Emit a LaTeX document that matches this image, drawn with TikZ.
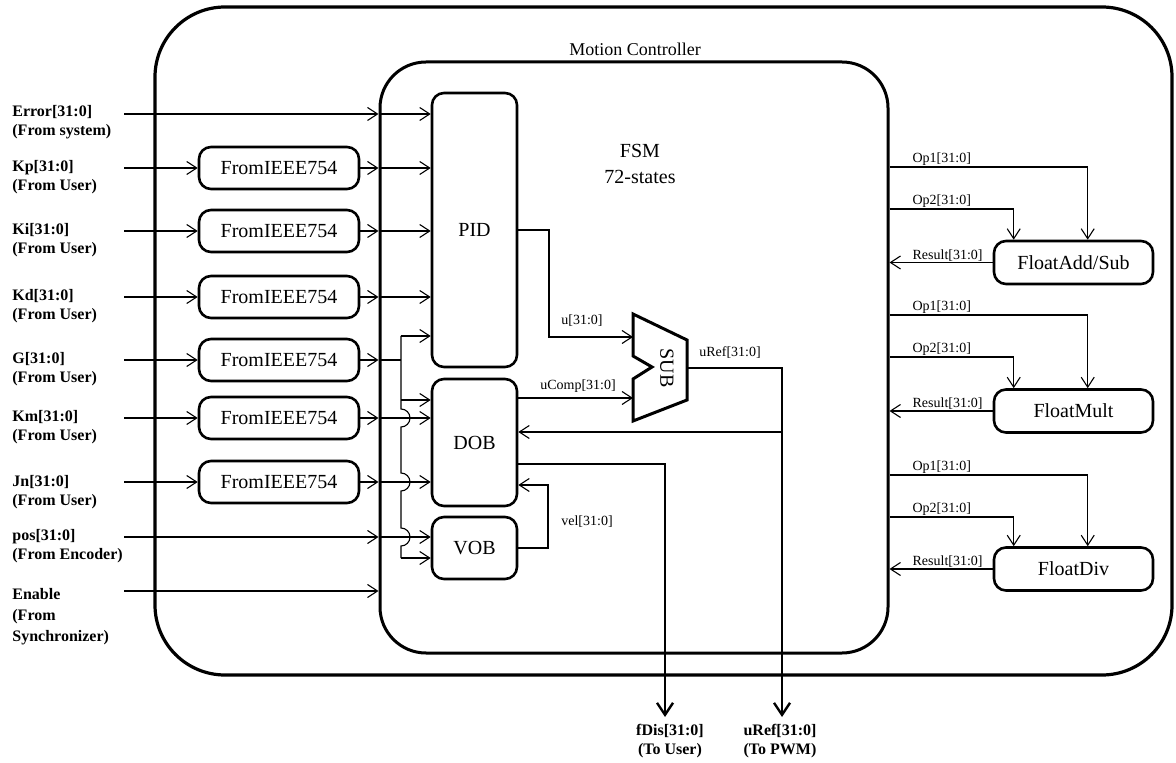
\documentclass[tikz,border=0pt]{standalone}
\usepackage{fontspec}
\setmainfont{Liberation Serif}
\usetikzlibrary{arrows.meta,calc}

\begin{document}
\begin{tikzpicture}[x=0.5pt, y=-0.5pt,
  wire/.style={line width=0.55pt},
  barb/.style={-{Straight Barb[length=5pt,width=6.5pt,line width=0.55pt]}},
  stub/.style={line width=1.3pt},
  outbus/.style={line width=1.3pt, -{Straight Barb[length=6pt,width=8pt,line width=1.2pt]}},
  blockbox/.style={draw, line width=1.3pt, rounded corners=6pt, inner sep=0pt,
    font=\fontsize{10}{12}\selectfont},
  convbox/.style={blockbox, minimum width=80pt, minimum height=21pt},
  fpubox/.style={blockbox, minimum width=79.5pt, minimum height=21.5pt},
  siglbl/.style={font=\fontsize{7}{8}\selectfont, inner sep=0.6pt},
  portlbl/.style={font=\fontsize{8}{9.5}\selectfont\bfseries, align=left, inner sep=0pt},
]
\useasboundingbox (0,0) rectangle (1176,763);

% ---- enclosures ----
\node[draw, line width=1.6pt, rounded corners=35pt, inner sep=0pt,
      minimum width=508.5pt, minimum height=334pt] (mc) at (663.5,341) {};
\node[font=\fontsize{9}{11}\selectfont, inner sep=0pt] (mctitle) at (635,49) {Motion Controller};
\node[draw, line width=1.5pt, rounded corners=23pt, inner sep=0pt,
      minimum width=254pt, minimum height=295.5pt] (fsm) at (634,357.5) {};
\node[font=\fontsize{10}{13}\selectfont, align=center, inner sep=0pt] (fsmtxt) at (640,164) {FSM\\72-states};

% ---- internal blocks ----
\node[blockbox, minimum width=42.5pt, minimum height=137pt] (pid) at (474.5,230) {PID};
\node[blockbox, minimum width=42.5pt, minimum height=63.5pt] (dob) at (474.5,442.5) {DOB};
\node[blockbox, minimum width=42.5pt, minimum height=31pt] (vob) at (474.5,548) {VOB};

% ---- IEEE754 converters ----
\node[convbox] (ckp) at (279,168) {FromIEEE754};
\node[convbox] (cki) at (279,231) {FromIEEE754};
\node[convbox] (ckd) at (279,297) {FromIEEE754};
\node[convbox] (cg)  at (279,360) {FromIEEE754};
\node[convbox] (ckm) at (279,418) {FromIEEE754};
\node[convbox] (cjn) at (279,482) {FromIEEE754};

% ---- floating point units ----
\node[fpubox] (add)  at (1073.5,262.5) {FloatAdd/Sub};
\node[fpubox] (mult) at (1073.5,411) {FloatMult};
\node[fpubox] (div)  at (1073.5,569) {FloatDiv};

% ---- port labels ----
\node[portlbl, anchor=north west] (lerr) at (12,105) {Error[31:0]\\(From system)};
\node[portlbl, anchor=north west] (lkp)  at (12,160) {Kp[31:0]\\(From User)};
\node[portlbl, anchor=north west] (lki)  at (12,223) {Ki[31:0]\\(From User)};
\node[portlbl, anchor=north west] (lkd)  at (12,289) {Kd[31:0]\\(From User)};
\node[portlbl, anchor=north west] (lg)   at (12,352) {G[31:0]\\(From User)};
\node[portlbl, anchor=north west] (lkm)  at (12,410) {Km[31:0]\\(From User)};
\node[portlbl, anchor=north west] (ljn)  at (12,475) {Jn[31:0]\\(From User)};
\node[portlbl, anchor=north west] (lpos) at (12,529) {pos[31:0]\\(From Encoder)};
\node[portlbl, anchor=north west, font=\fontsize{8}{10.5}\selectfont\bfseries] (len) at (12,588) {Enable\\(From\\Synchronizer)};

% ---- input stubs ----
\coordinate (serr) at (124,114);
\coordinate (skp)  at (124,168);
\coordinate (ski)  at (124,231);
\coordinate (skd)  at (124,297);
\coordinate (sg)   at (124,360);
\coordinate (skm)  at (124,418);
\coordinate (sjn)  at (124,482);
\coordinate (spos) at (124,537);
\coordinate (sen)  at (124,591);
\foreach \s in {serr,skp,ski,skd,sg,skm,sjn,spos,sen}
  \draw[stub] (\s) -- (\s -| mc.west);

% Error input straight to PID
\draw[wire,barb] (serr -| mc.west) -- (serr -| fsm.west);
\draw[wire,barb] (serr -| fsm.west) -- (serr -| pid.west);

% gains through converters into PID
\foreach \s/\c in {skp/ckp, ski/cki, skd/ckd}{
  \draw[wire,barb] (\s -| mc.west) -- (\c.west);
  \draw[wire,barb] (\c.east) -- (\c.east -| fsm.west);
  \draw[wire,barb] (\c.east -| fsm.west) -- (\c.east -| pid.west);
}

% plant parameters through converters
\foreach \s/\c in {sg/cg, skm/ckm, sjn/cjn}{
  \draw[wire,barb] (\s -| mc.west) -- (\c.west);
  \draw[wire,barb] (\c.east) -- (\c.east -| fsm.west);
}
\draw[wire,barb] (ckm.east -| fsm.west) -- (ckm.east -| dob.west);
\draw[wire,barb] (cjn.east -| fsm.west) -- (cjn.east -| dob.west);

% position and enable
\draw[wire,barb] (spos -| mc.west) -- (spos -| fsm.west);
\draw[wire,barb] (spos -| fsm.west) -- (spos -| vob.west);
\draw[wire,barb] (sen -| mc.west) -- (sen -| fsm.west);

% G distribution bus with hops over crossing wires
\coordinate (bus)    at (401,360);
\coordinate (bustop) at (401,336);
\coordinate (busdob) at (401,400);
\coordinate (busbot) at (401,558);
\draw[wire] (cg.east -| fsm.west) -- (bus);
\draw[wire] (bustop) -- (401,409) arc[start angle=90, end angle=-90, radius=4.5pt]
  -- (401,473) arc[start angle=90, end angle=-90, radius=4.5pt]
  -- (401,528) arc[start angle=90, end angle=-90, radius=4.5pt]
  -- (busbot);
\draw[wire,barb] (bustop) -- (bustop -| pid.west);
\draw[wire,barb] (busdob) -- (busdob -| dob.west);
\draw[wire,barb] (busbot) -- (busbot -| vob.west);

% ---- SUB block ----
\coordinate (subin1) at (633,337);
\coordinate (subin2) at (633,398);
\coordinate (subout) at (687,368);
\draw[line width=1.5pt, line join=miter]
  (633,314) -- (687,340) -- (687,400) -- (633,421) -- (633,379) -- (652,367) -- (633,356) -- cycle;
\node[rotate=-90, font=\fontsize{10}{12}\selectfont, inner sep=0pt] (subtxt) at (667,368) {SUB};

% PID output to SUB
\coordinate (ujog) at (549,337);
\draw[wire,barb] (pid.east) -| (ujog) -- (subin1);
\node[siglbl] (ulbl) at (582,321) {u[31:0]};

% DOB compensation to SUB
\draw[wire,barb] (subin2 -| dob.east) -- (subin2);
\node[siglbl] (ucomplbl) at (578,386) {uComp[31:0]};

% SUB output: uRef
\coordinate (urefend) at (782,717);
\coordinate (urefexit) at (urefend |- mc.south);
\coordinate (fbk) at (782,432);
\draw[wire] (subout) -| (urefexit);
\draw[outbus] (urefexit) -- (urefend);
\node[siglbl] (ureflbl) at (730,353) {uRef[31:0]};
\draw[wire,barb] (fbk) -- (fbk -| dob.east);

% DOB disturbance output
\coordinate (fdisend) at (665,717);
\coordinate (fdisexit) at (fdisend |- mc.south);
\coordinate (fdisout) at (517,464);
\draw[wire] (fdisout -| dob.east) -| (fdisexit);
\draw[outbus] (fdisexit) -- (fdisend);

% VOB velocity to DOB
\coordinate (veljog) at (548,485);
\draw[wire,barb] (vob.east) -| (veljog) -- (veljog -| dob.east);
\node[siglbl] (vellbl) at (587,522) {vel[31:0]};

% output port labels
\node[portlbl, align=center, anchor=north] (lfdis) at (670,724) {fDis[31:0]\\(To User)};
\node[portlbl, align=center, anchor=north] (luref) at (780,724) {uRef[31:0]\\(To PWM)};

% ---- floating point unit connections ----
\foreach \u/\a/\b in {add/167/209, mult/315/357, div/475/517}{
  \draw[wire,barb] (fsm.east |- 0,\a) -| ([xshift=47.5pt]\u.north west);
  \draw[wire,barb] (fsm.east |- 0,\b) -| ([xshift=10.5pt]\u.north west);
  \draw[wire,barb] (\u.west) -- (\u.west -| fsm.east);
  \node[siglbl, anchor=south west] (\u-op1) at (911,\a) {Op1[31:0]};
  \node[siglbl, anchor=south west] (\u-op2) at (911,\b) {Op2[31:0]};
  \node[siglbl, anchor=south west] (\u-res) at (\u.west -| 911,0) {Result[31:0]};
}
\end{tikzpicture}
\end{document}
